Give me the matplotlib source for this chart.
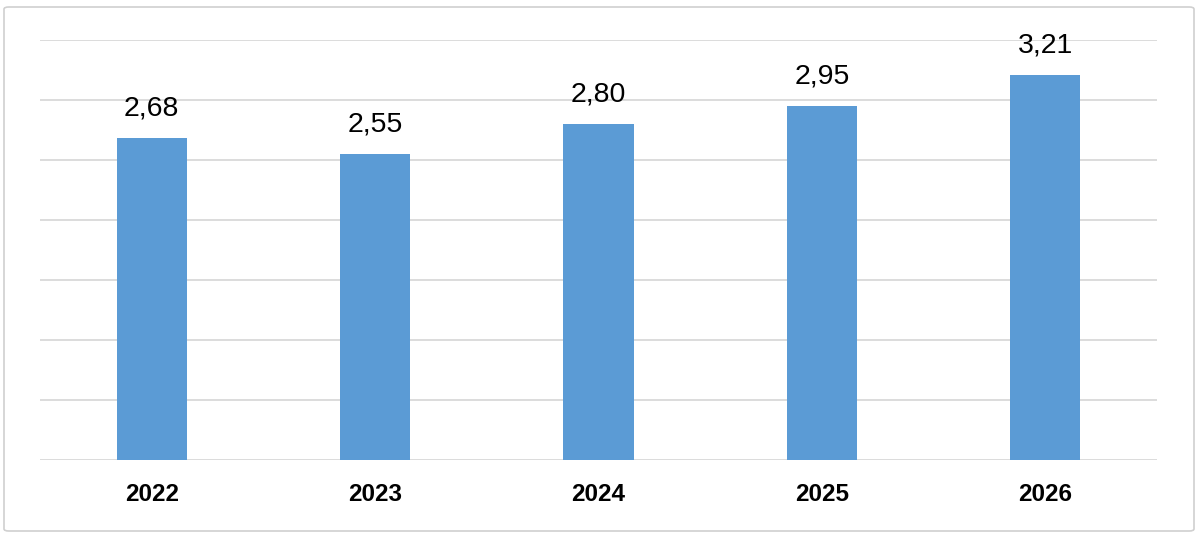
#!/usr/bin/env python3
"""Bar chart of yearly values 2022-2026 with data labels."""

import matplotlib
matplotlib.use("Agg")
import matplotlib.pyplot as plt
from matplotlib.patches import FancyBboxPatch

YEARS = ["2022", "2023", "2024", "2025", "2026"]
VALUES = [2.68, 2.55, 2.80, 2.95, 3.21]
LABELS = ["2,68", "2,55", "2,80", "2,95", "3,21"]

BAR_COLOR = "#5B9BD5"
GRID_COLOR = "#D9D9D9"

plt.rcParams["font.family"] = ["Liberation Sans", "DejaVu Sans"]

W, H = 1200, 535
fig = plt.figure(figsize=(W / 100, H / 100), dpi=100)

# outer light frame
frame = FancyBboxPatch((4 / W, 4 / H), 1190 / W, 524 / H,
                       boxstyle="round,pad=0,rounding_size=0.004",
                       transform=fig.transFigure, fill=False,
                       edgecolor="#D0D0D0", linewidth=1.2)
fig.patches.append(frame)

ax = fig.add_axes([40 / W, 1 - 460 / H, 1117 / W, 420 / H])
x = list(range(len(YEARS)))
bars = ax.bar(x, VALUES, width=0.315, color=BAR_COLOR, zorder=3)

ax.set_ylim(0, 3.5)
ax.set_xlim(-0.5, len(YEARS) - 0.5)
ax.set_yticks([i * 0.5 for i in range(8)])
ax.yaxis.grid(True, color=GRID_COLOR, linewidth=1.3, zorder=0)
ax.tick_params(axis="y", left=False, labelleft=False)
ax.tick_params(axis="x", bottom=False, pad=13)
ax.set_xticks(x)
ax.set_xticklabels(YEARS, fontsize=17.5, fontweight="bold")
for s in ax.spines.values():
    s.set_visible(False)

for b, lab in zip(bars, LABELS):
    ax.annotate(lab, (b.get_x() + b.get_width() / 2, b.get_height()),
                xytext=(0, 12), textcoords="offset points",
                ha="center", va="bottom", fontsize=20.5)

fig.savefig("out.png", dpi=100)
